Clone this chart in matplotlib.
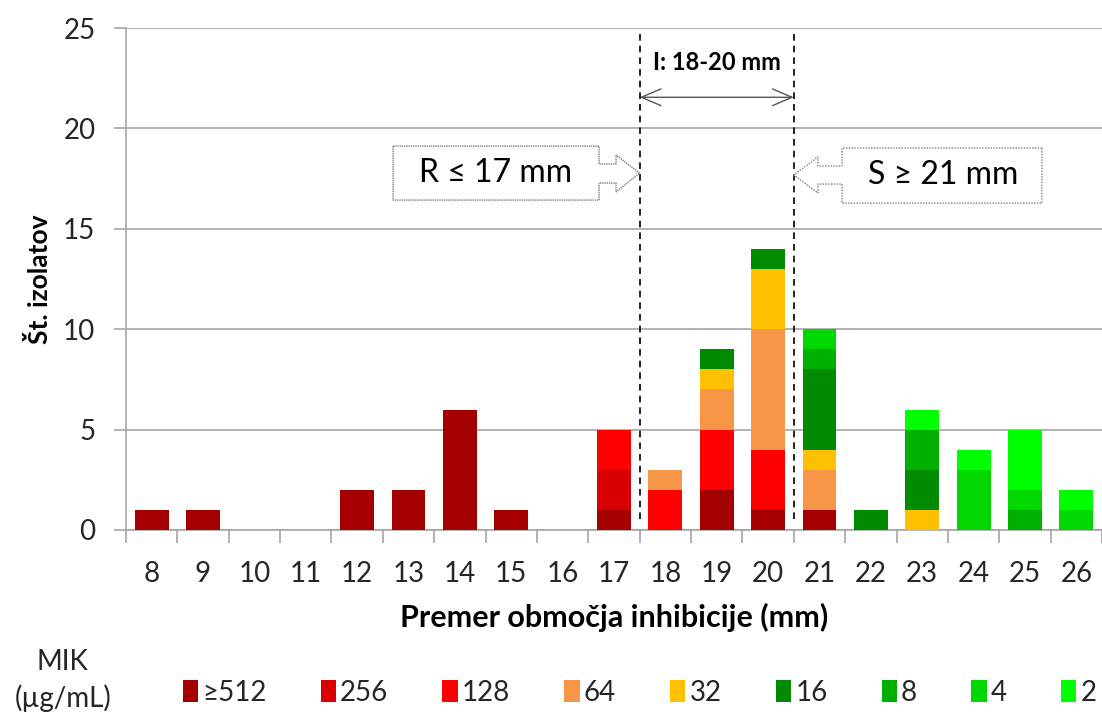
import numpy as np
import matplotlib.pyplot as plt
from matplotlib.patches import Polygon

plt.rcParams['font.family'] = ['Lato', 'DejaVu Sans']

# premer (mm)
premer = [8, 9, 10, 11, 12, 13, 14, 15, 16, 17, 18, 19, 20, 21, 22, 23, 24, 25, 26]

mik_labels = ['≥512', '256', '128', '64', '32', '16', '8', '4', '2']
mik_colors = ['#A50000', '#D80000', '#FF0000', '#F79646', '#FFC000',
              '#008A00', '#00B000', '#00D800', '#00FF00']

#            8  9 10 11 12 13 14 15 16 17 18 19 20 21 22 23 24 25 26
n_512 =     [1, 1, 0, 0, 2, 2, 6, 1, 0, 1, 0, 2, 1, 1, 0, 0, 0, 0, 0]
n_256 =     [0, 0, 0, 0, 0, 0, 0, 0, 0, 2, 0, 0, 0, 0, 0, 0, 0, 0, 0]
n_128 =     [0, 0, 0, 0, 0, 0, 0, 0, 0, 2, 2, 3, 3, 0, 0, 0, 0, 0, 0]
n_64 =      [0, 0, 0, 0, 0, 0, 0, 0, 0, 0, 1, 2, 6, 2, 0, 0, 0, 0, 0]
n_32 =      [0, 0, 0, 0, 0, 0, 0, 0, 0, 0, 0, 1, 3, 1, 0, 1, 0, 0, 0]
n_16 =      [0, 0, 0, 0, 0, 0, 0, 0, 0, 0, 0, 1, 1, 4, 1, 2, 0, 0, 0]
n_8 =       [0, 0, 0, 0, 0, 0, 0, 0, 0, 0, 0, 0, 0, 1, 0, 2, 0, 1, 0]
n_4 =       [0, 0, 0, 0, 0, 0, 0, 0, 0, 0, 0, 0, 0, 1, 0, 0, 3, 1, 1]
n_2 =       [0, 0, 0, 0, 0, 0, 0, 0, 0, 0, 0, 0, 0, 0, 0, 1, 1, 3, 1]

series = [n_512, n_256, n_128, n_64, n_32, n_16, n_8, n_4, n_2]

fig = plt.figure(figsize=(11.02, 7.2), dpi=100)
ax = fig.add_axes([0.1143, 0.2639, 0.8857, 0.6972])

x = np.array(premer)
bottom = np.zeros(len(x))
for vals, lab, col in zip(series, mik_labels, mik_colors):
    v = np.array(vals, dtype=float)
    ax.bar(x, v, width=0.66, bottom=bottom, color=col, label=lab, zorder=3)
    bottom += v

ax.set_xlim(7.5, 26.5)
ax.set_ylim(0, 25)
ax.set_yticks(np.arange(0, 26, 5))
ax.yaxis.grid(True, color='#A6A6A6', lw=1.2, zorder=0)

# ticks between categories, labels at centres
ax.set_xticks(np.arange(7.5, 27, 1))
ax.set_xticklabels([])
ax.set_xticks(x, minor=True)
ax.set_xticklabels([str(v) for v in premer], minor=True)
ax.tick_params(axis='x', which='major', length=9, width=1.2, color='#A6A6A6', direction='out')
ax.tick_params(axis='x', which='minor', length=0, pad=22, labelsize=20, labelcolor='#262626')
ax.tick_params(axis='y', length=9, width=1.2, color='#A6A6A6', pad=13, labelsize=20, labelcolor='#262626')

for s in ['top', 'right']:
    ax.spines[s].set_visible(False)
for s in ['left', 'bottom']:
    ax.spines[s].set_color('#A6A6A6')
    ax.spines[s].set_linewidth(1.2)

ax.set_xlabel('Premer območja inhibicije (mm)', fontsize=22, fontweight='bold', labelpad=12)
ax.set_ylabel('Št. izolatov', fontsize=19, fontweight='bold', labelpad=8)

# meje
ax.vlines([17.5, 20.5], 0.55, 24.9, colors='black', linestyles=(0, (4, 3)), lw=1.2, zorder=4)

ax.annotate('', xy=(17.5, 21.55), xytext=(20.5, 21.55),
            arrowprops=dict(arrowstyle='<->,head_length=1.4,head_width=0.6',
                            color='#555555', lw=1.0, shrinkA=0, shrinkB=0))
ax.text(19.0, 23.3, 'I: 18-20 mm', ha='center', va='center', fontsize=17, fontweight='bold')

r_box = [(12.70, 19.12), (16.71, 19.12), (16.71, 18.23), (17.04, 18.23), (17.04, 18.67),
         (17.5, 17.78), (17.04, 16.83), (17.04, 17.28), (16.71, 17.28), (16.71, 16.43),
         (12.70, 16.43)]
s_box = [(25.33, 19.02), (21.44, 19.02), (21.44, 18.13), (20.97, 18.13), (20.97, 18.58),
         (20.5, 17.68), (20.97, 16.78), (20.97, 17.23), (21.44, 17.23), (21.44, 16.28),
         (25.33, 16.28)]
ax.add_patch(Polygon(r_box, closed=True, facecolor='white', edgecolor='#7F7F7F',
                     lw=1.0, linestyle=(0, (1, 0.6)), zorder=5))
ax.add_patch(Polygon(s_box, closed=True, facecolor='white', edgecolor='#7F7F7F',
                     lw=1.0, linestyle=(0, (1, 1)), zorder=5))
ax.text(14.7, 17.78, 'R ≤ 17 mm', ha='center', va='center', fontsize=23, zorder=6)
ax.text(23.4, 17.68, 'S ≥ 21 mm', ha='center', va='center', fontsize=23, zorder=6)

# legenda
fig.text(0.057, 0.055, 'MIK\n(µg/mL)', ha='center', va='center', fontsize=20,
         linespacing=1.45, color='#262626')
fig.legend(loc='center left', bbox_to_anchor=(0.143, 0.038), ncol=9, frameon=False,
           fontsize=20, handlelength=0.55, handleheight=0.8, handletextpad=0.15,
           columnspacing=1.95, labelcolor='#262626')

fig.savefig('out.png', dpi=100)
